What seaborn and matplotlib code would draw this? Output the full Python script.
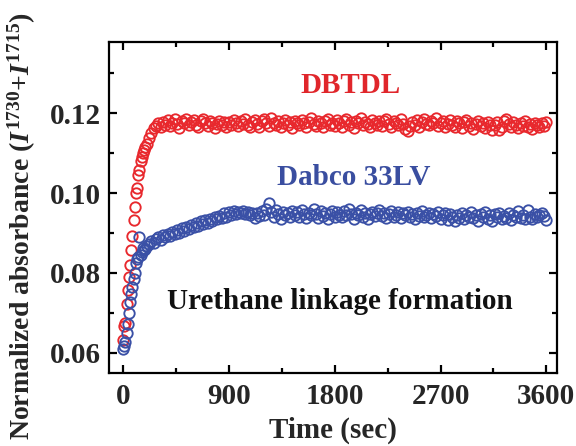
import matplotlib
matplotlib.use("Agg")
import matplotlib.pyplot as plt
import seaborn as sns
import pandas as pd
from matplotlib.ticker import MultipleLocator

# ---------------- data ----------------
# denser sampling during the initial rise, then every 20 s
time_s = list(range(0, 200, 10)) + list(range(200, 3601, 20))

dbtdl = [
    0.0632, 0.0668, 0.0675, 0.0722, 0.0758, 0.0790, 0.0820, 0.0858, 0.0893, 0.0932,
    0.0965, 0.1000, 0.1012, 0.1045, 0.1058, 0.1080, 0.1090, 0.1100, 0.1108, 0.1115,
    0.1122, 0.1138, 0.1150, 0.1162, 0.1168, 0.1174, 0.1165, 0.1178, 0.1170, 0.1182,
    0.1168, 0.1176, 0.1185, 0.1172, 0.1163, 0.1180, 0.1174, 0.1186, 0.1169, 0.1177,
    0.1183, 0.1171, 0.1165, 0.1179, 0.1186, 0.1174, 0.1168, 0.1181, 0.1176, 0.1163,
    0.1172, 0.1180, 0.1169, 0.1177, 0.1166, 0.1178, 0.1171, 0.1182, 0.1175, 0.1168,
    0.1179, 0.1173, 0.1186, 0.1170, 0.1165, 0.1177, 0.1183, 0.1172, 0.1164, 0.1179,
    0.1185, 0.1174, 0.1168, 0.1188, 0.1176, 0.1170, 0.1181, 0.1166, 0.1175, 0.1183,
    0.1171, 0.1177, 0.1163, 0.1180, 0.1174, 0.1169, 0.1182, 0.1176, 0.1165, 0.1178,
    0.1187, 0.1172, 0.1167, 0.1181, 0.1175, 0.1164, 0.1179, 0.1184, 0.1170, 0.1176,
    0.1168, 0.1182, 0.1174, 0.1166, 0.1179, 0.1186, 0.1171, 0.1177, 0.1163, 0.1180,
    0.1175, 0.1188, 0.1169, 0.1178, 0.1172, 0.1165, 0.1183, 0.1176, 0.1170, 0.1181,
    0.1167, 0.1179, 0.1185, 0.1173, 0.1166, 0.1180, 0.1176, 0.1169, 0.1184, 0.1172,
    0.1160, 0.1155, 0.1168, 0.1178, 0.1171, 0.1183, 0.1165, 0.1177, 0.1186, 0.1172,
    0.1169, 0.1181, 0.1175, 0.1187, 0.1168, 0.1176, 0.1180, 0.1164, 0.1173, 0.1182,
    0.1170, 0.1166, 0.1179, 0.1174, 0.1162, 0.1177, 0.1183, 0.1168, 0.1175, 0.1160,
    0.1172, 0.1180, 0.1167, 0.1176, 0.1163, 0.1178, 0.1171, 0.1158, 0.1169, 0.1177,
    0.1157, 0.1166, 0.1181, 0.1186, 0.1172, 0.1165, 0.1178, 0.1170, 0.1162, 0.1175,
    0.1168, 0.1179, 0.1164, 0.1173, 0.1160, 0.1176, 0.1170, 0.1165, 0.1174, 0.1168,
    0.1178,
]

dabco = [
    0.0610, 0.0618, 0.0628, 0.0650, 0.0672, 0.0700, 0.0728, 0.0748, 0.0765, 0.0785,
    0.0800, 0.0825, 0.0835, 0.0840, 0.0890, 0.0845, 0.0852, 0.0862, 0.0858, 0.0860,
    0.0868, 0.0872, 0.0880, 0.0876, 0.0885, 0.0890, 0.0883, 0.0894, 0.0889, 0.0898,
    0.0892, 0.0903, 0.0897, 0.0908, 0.0901, 0.0912, 0.0905, 0.0916, 0.0909, 0.0920,
    0.0914, 0.0925, 0.0918, 0.0929, 0.0922, 0.0933, 0.0926, 0.0936, 0.0930, 0.0940,
    0.0934, 0.0943, 0.0938, 0.0950, 0.0941, 0.0952, 0.0946, 0.0955, 0.0948, 0.0953,
    0.0950, 0.0956, 0.0947, 0.0953, 0.0944, 0.0951, 0.0938, 0.0949, 0.0943, 0.0955,
    0.0946, 0.0960, 0.0975, 0.0952, 0.0941, 0.0957, 0.0948, 0.0936, 0.0953, 0.0944,
    0.0950, 0.0939, 0.0955, 0.0945, 0.0952, 0.0940, 0.0958, 0.0947, 0.0937, 0.0951,
    0.0944, 0.0959, 0.0948, 0.0938, 0.0954, 0.0943, 0.0950, 0.0935, 0.0947, 0.0956,
    0.0941, 0.0952, 0.0946, 0.0939, 0.0955, 0.0944, 0.0960, 0.0948, 0.0936, 0.0951,
    0.0945, 0.0957, 0.0940, 0.0950, 0.0934, 0.0947, 0.0953, 0.0942, 0.0949, 0.0958,
    0.0943, 0.0951, 0.0937, 0.0948, 0.0955, 0.0941, 0.0946, 0.0952, 0.0938, 0.0949,
    0.0944, 0.0953, 0.0940, 0.0947, 0.0935, 0.0950, 0.0943, 0.0955, 0.0939, 0.0946,
    0.0951, 0.0937, 0.0948, 0.0942, 0.0953, 0.0936, 0.0945, 0.0950, 0.0933, 0.0947,
    0.0941, 0.0929, 0.0944, 0.0938, 0.0950, 0.0934, 0.0946, 0.0940, 0.0953, 0.0937,
    0.0945, 0.0931, 0.0948, 0.0939, 0.0952, 0.0936, 0.0944, 0.0930, 0.0947, 0.0941,
    0.0950, 0.0935, 0.0943, 0.0938, 0.0949, 0.0932, 0.0946, 0.0940, 0.0955, 0.0937,
    0.0944, 0.0934, 0.0958, 0.0941, 0.0936, 0.0948, 0.0939, 0.0945, 0.0950, 0.0942,
    0.0933,
]

x_ticks = [0, 900, 1800, 2700, 3600]
y_ticks = [0.06, 0.08, 0.10, 0.12]

red = "#e8282d"
blue = "#3a50a6"

# ---------------- style ----------------
sns.set_theme(style="ticks")
plt.rcParams["font.family"] = ["Liberation Serif", "DejaVu Serif"]
plt.rcParams["font.weight"] = "bold"
plt.rcParams["mathtext.fontset"] = "custom"
plt.rcParams["mathtext.rm"] = "Liberation Serif:bold"
plt.rcParams["mathtext.it"] = "Liberation Serif:italic:bold"
plt.rcParams["mathtext.bf"] = "Liberation Serif:bold"

fig = plt.figure(figsize=(5.76, 4.46), dpi=100)
ax = fig.add_axes([0.189, 0.164, 0.778, 0.742])

df_r = pd.DataFrame({"t": time_s, "v": dbtdl})
df_b = pd.DataFrame({"t": time_s, "v": dabco})

for df, col in [(df_r, red), (df_b, blue)]:
    sns.lineplot(data=df, x="t", y="v", ax=ax, linestyle="none", marker="o",
                 markersize=7.5, markerfacecolor="none", markeredgecolor=col,
                 markeredgewidth=1.35, color=col)

ax.set_xlim(-120, 3690)
ax.set_ylim(0.055, 0.1378)
ax.set_xticks(x_ticks)
ax.set_yticks(y_ticks)
ax.set_xticklabels([str(v) for v in x_ticks])
ax.set_yticklabels([f"{v:.2f}" for v in y_ticks])
ax.xaxis.set_minor_locator(MultipleLocator(450))
ax.yaxis.set_minor_locator(MultipleLocator(0.01))

ax.tick_params(which="both", direction="in", top=True, right=True, width=1.6, color="black")
ax.tick_params(which="major", length=6, labelsize=21)
ax.tick_params(which="minor", length=3.5)
ax.tick_params(axis="x", which="major", pad=7)
ax.tick_params(axis="y", which="major", pad=6)
for lab in ax.get_xticklabels() + ax.get_yticklabels():
    lab.set_fontweight("bold")
for s in ax.spines.values():
    s.set_linewidth(1.6)
    s.set_color("black")

ax.set_xlabel("Time (sec)", fontsize=21, fontweight="bold")
ax.xaxis.set_label_coords(0.5, -0.133)
ax.set_ylabel(r"Normalized absorbance ($I^{1730}$+$I^{1715}$)", fontsize=20,
              fontweight="bold", va="center")
ax.yaxis.set_label_coords(-0.194, 0.444)

ax.text(1936, 0.127, "DBTDL", color="#e0262b", fontsize=21, fontweight="bold",
        ha="center", va="center")
ax.text(1961, 0.1038, "Dabco 33LV", color="#3a4ea0", fontsize=21, fontweight="bold",
        ha="center", va="center")
ax.text(1842, 0.0728, "Urethane linkage formation", color="#111111", fontsize=21,
        fontweight="bold", ha="center", va="center")

fig.savefig("out.png", dpi=100)
